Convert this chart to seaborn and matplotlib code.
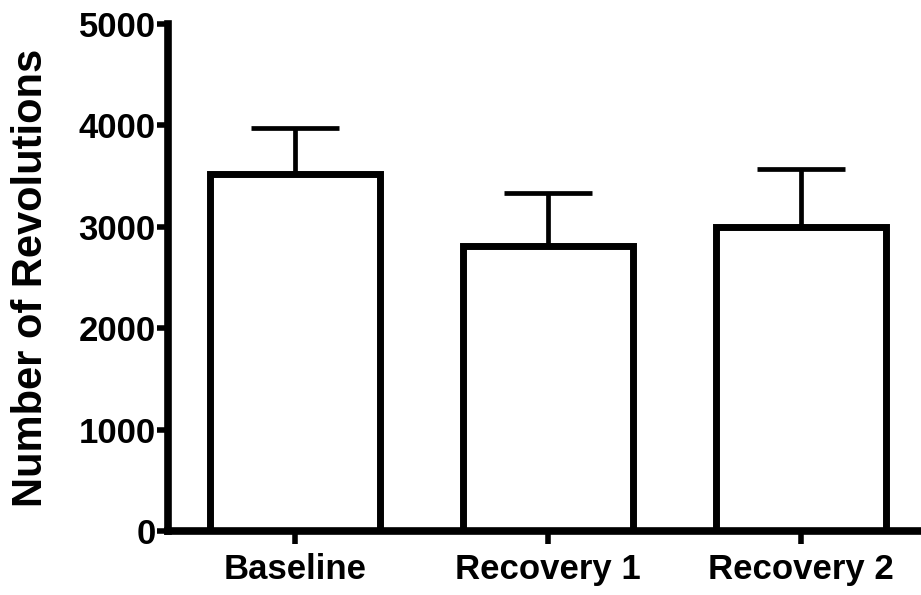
import seaborn as sns
import matplotlib.pyplot as plt
import pandas as pd

# Valeurs
conditions = ['Baseline', 'Recovery 1', 'Recovery 2']
revolutions = [3520, 2810, 3000]
erreurs = [455, 525, 570]
yticks = [0, 1000, 2000, 3000, 4000, 5000]


def main():
    df = pd.DataFrame({'condition': conditions, 'revolutions': revolutions})

    sns.set_style('ticks')
    plt.rcParams['font.family'] = ['Liberation Sans', 'DejaVu Sans']
    plt.rcParams['text.color'] = 'black'
    plt.rcParams['axes.labelcolor'] = 'black'
    plt.rcParams['xtick.color'] = 'black'
    plt.rcParams['ytick.color'] = 'black'
    plt.rcParams['axes.edgecolor'] = 'black'

    fig = plt.figure(figsize=(9.21, 5.95), dpi=100)
    ax = fig.add_axes([0.1824, 0.1076, 0.8252, 0.8521])

    # Barres d'erreur (vers le haut uniquement), dessinées sous les barres
    ax.errorbar(
        x=range(len(conditions)),
        y=revolutions,
        yerr=[[0] * len(erreurs), erreurs],
        fmt='none',
        ecolor='black',
        elinewidth=3.4,
        capsize=32,
        capthick=3.4,
        zorder=1,
    )

    sns.barplot(
        data=df,
        x='condition',
        y='revolutions',
        color='white',
        edgecolor='black',
        linewidth=5,
        width=0.67,
        errorbar=None,
        ax=ax,
        zorder=2,
    )

    ax.set_xlim(-0.5, 2.5)
    ax.set_ylim(0, 5000)
    ax.set_yticks(yticks)
    ax.set_xlabel('')
    ax.set_ylabel('Number of Revolutions', fontsize=30, fontweight='bold')
    ax.yaxis.set_label_coords(-0.154, 0.5)

    for lab in ax.get_xticklabels() + ax.get_yticklabels():
        lab.set_fontsize(25)
        lab.set_fontweight('bold')

    sns.despine(ax=ax)
    for s in ['left', 'bottom']:
        ax.spines[s].set_linewidth(5.5)
        ax.spines[s].set_capstyle('projecting')
    ax.tick_params(axis='y', length=8, width=4, pad=1)
    ax.tick_params(axis='x', length=9, width=4, pad=7)

    fig.savefig('out.png', dpi=100)
    plt.close(fig)


main()
